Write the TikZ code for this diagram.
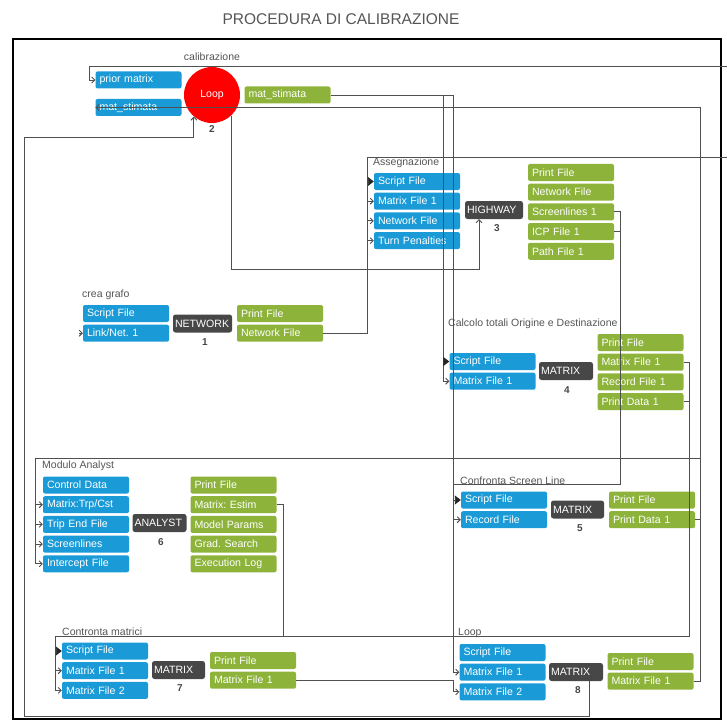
\documentclass[tikz,border=0pt]{standalone}
\usepackage{fontspec}
\setmainfont{Liberation Sans}
\usetikzlibrary{positioning,arrows.meta}
\definecolor{cubeblue}{HTML}{1A9BD7}
\definecolor{cubegreen}{HTML}{8DB33B}
\definecolor{cubedark}{HTML}{474747}
\definecolor{wiregray}{HTML}{505050}
\definecolor{labgray}{HTML}{555555}
\tikzset{
    inp/.style={fill=cubeblue, text=white, rounded corners=2pt,
        text width=78pt, inner xsep=4pt, inner ysep=0pt, minimum height=17pt,
        align=left, font=\fontsize{10.6}{11}\selectfont},
    outp/.style={inp, fill=cubegreen},
    prog/.style={fill=cubedark, text=white, rounded corners=2.5pt,
        text width=#1, inner xsep=2pt, inner ysep=0pt, minimum height=18pt,
        align=left, font=\fontsize{10.6}{11}\selectfont},
    num/.style={text=cubedark, font=\fontsize{10}{11}\selectfont\bfseries},
    grp/.style={text=labgray, anchor=west, inner sep=0pt,
        font=\fontsize{10.5}{12}\selectfont},
    wire/.style={draw=wiregray, line width=0.9pt},
    barb/.tip={Straight Barb[length=3pt,width=6pt]},
    scr/.tip={Triangle[length=6pt,width=9pt,color=black!85]},
}
\begin{document}
\frenchspacing
\begin{tikzpicture}[x=1pt,y=-1pt]
        \useasboundingbox (0,0) rectangle (727,722);
        \node[text=labgray, font=\fontsize{15.5}{17}\selectfont] (title) at (341,19.5) {PROCEDURA DI CALIBRAZIONE};
        \draw[line width=1.6pt] (13,39) rectangle (721,719);

        \node[grp, anchor=center] (gcal) at (212,57) {calibrazione};
        \node[inp] (pm) at (138.5,80) {prior matrix};
        \node[inp] (msi) at (138.5,107.5) {mat\_stimata};
        \node[circle, fill=red, text=white, minimum size=56pt, inner sep=0pt,
            font=\fontsize{10.5}{12}\selectfont] (loop) at (212,95) {Loop};
        \node[num] (n2) at (212,129) {2};
        \node[outp] (mso) at (287.5,95) {mat\_stimata};

        \node[grp] (gas) at (373,163) {Assegnazione};
        \node[inp] (a1) at (417,181.5) {Script File};
        \node[inp, below=2.3pt of a1] (a2) {Matrix File 1};
        \node[inp, below=2.3pt of a2] (a3) {Network File};
        \node[inp, below=2.3pt of a3] (a4) {Turn Penalties};
        \node[prog=54pt] (hw) at (494,210) {HIGHWAY};
        \node[num] (n3) at (497,228) {3};
        \node[outp] (b1) at (571,172.5) {Print File};
        \node[outp, below=2.3pt of b1] (b2) {Network File};
        \node[outp, below=2.3pt of b2] (b3) {Screenlines 1};
        \node[outp, below=2.3pt of b3] (b4) {ICP File 1};
        \node[outp, below=2.3pt of b4] (b5) {Path File 1};

        \node[grp] (gcg) at (82,295) {crea grafo};
        \node[inp] (c1) at (126,313.5) {Script File};
        \node[inp, below=2.3pt of c1] (c2) {Link/Net. 1};
        \node[prog=55pt] (nw) at (202.5,323.5) {NETWORK};
        \node[num] (n1) at (205,342) {1};
        \node[outp] (d1) at (280,313.5) {Print File};
        \node[outp, below=2.3pt of d1] (d2) {Network File};

        \node[grp] (gct) at (448,324) {Calcolo totali Origine e Destinazione};
        \node[inp] (e1) at (492.5,361.5) {Script File};
        \node[inp, below=2.3pt of e1] (e2) {Matrix File 1};
        \node[prog=50pt] (m4) at (566,371) {MATRIX};
        \node[num] (n4) at (567,390) {4};
        \node[outp] (f1) at (640.5,342.5) {Print File};
        \node[outp, below=2.3pt of f1] (f2) {Matrix File 1};
        \node[outp, below=2.3pt of f2] (f3) {Record File 1};
        \node[outp, below=2.3pt of f3] (f4) {Print Data 1};

        \node[grp] (gan) at (42,466) {Modulo Analyst};
        \node[inp] (g1) at (86,485) {Control Data};
        \node[inp, below=2.3pt of g1] (g2) {Matrix:Trp/Cst};
        \node[inp, below=2.3pt of g2] (g3) {Trip End File};
        \node[inp, below=2.3pt of g3] (g4) {Screenlines};
        \node[inp, below=2.3pt of g4] (g5) {Intercept File};
        \node[prog=50pt] (an) at (159.5,523) {ANALYST};
        \node[num] (n6) at (161,542) {6};
        \node[outp] (h1) at (233.5,485) {Print File};
        \node[outp, below=2.3pt of h1] (h2) {Matrix: Estim};
        \node[outp, below=2.3pt of h2] (h3) {Model Params};
        \node[outp, below=2.3pt of h3] (h4) {Grad. Search};
        \node[outp, below=2.3pt of h4] (h5) {Execution Log};

        \node[grp] (gcs) at (460,481) {Confronta Screen Line};
        \node[inp] (i1) at (504,500) {Script File};
        \node[inp, below=2.3pt of i1] (i2) {Record File};
        \node[prog=49pt] (m5) at (577.5,509.5) {MATRIX};
        \node[num] (n5) at (580,528) {5};
        \node[outp] (j1) at (652,500) {Print File};
        \node[outp, below=2.3pt of j1] (j2) {Print Data 1};

        \node[grp] (gcm) at (62,632) {Contronta matrici};
        \node[inp] (k1) at (105,651) {Script File};
        \node[inp, below=2.3pt of k1] (k2) {Matrix File 1};
        \node[inp, below=2.3pt of k2] (k3) {Matrix File 2};
        \node[prog=49pt] (m7) at (178.5,670) {MATRIX};
        \node[num] (n7) at (180,688) {7};
        \node[outp] (l1) at (253,660.5) {Print File};
        \node[outp, below=2.3pt of l1] (l2) {Matrix File 1};

        \node[grp] (glp) at (458,633) {Loop};
        \node[inp] (p1) at (502.5,652.5) {Script File};
        \node[inp, below=2.3pt of p1] (p2) {Matrix File 1};
        \node[inp, below=2.3pt of p2] (p3) {Matrix File 2};
        \node[prog=50pt] (m8) at (576,672) {MATRIX};
        \node[num] (n8) at (578,690) {8};
        \node[outp] (q1) at (650.5,661.5) {Print File};
        \node[outp, below=2.3pt of q1] (q2) {Matrix File 1};

        \coordinate (calR) at (727,66);
        \coordinate (asR) at (727,157);
        \coordinate (as0) at (367,157);
        \coordinate (hwk) at (0,269);
        \coordinate (lb1) at (24,716);
        \coordinate (lb2) at (24,137);
        \coordinate (sc0) at (620,484);
        \coordinate (cm0) at (55,636);
        \coordinate (cm1) at (689,636);
        \coordinate (an0) at (35,458);
        \coordinate (an1) at (700.5,458);
        \coordinate (p2x) at ([xshift=-6pt]p2.west);
        \coordinate (e2x) at ([xshift=-6pt]e2.west);

        \draw[wire, -{barb}] (calR) -| ([xshift=-6pt]pm.west) -- (pm.west);
        \draw[wire, -{barb}] (q2.east) -- ++(7,0) |- (msi.west);
        \draw[wire, -{barb}] (mso.east) -| (p2x) -- (p2.west);
        \draw[wire, -{barb}] (e2x |- mso.east) |- (e2.west);
        \draw[wire, -{scr}] (e1.west -| e2x) -- (e1.west);
        \draw[wire, -{barb}] (loop.-47) -- (loop.-47 |- hwk) -| ([xshift=-15pt]hw.south);
        \draw[wire, -{barb}] ([xshift=13pt]m8.south) |- (lb1) -- (lb2) -| (loop.-130);

        \draw[wire] (d2.east) -| (as0) -- (asR);
        \draw[wire, -{scr}] (a1.west -| as0) -- (a1.west);
        \draw[wire, -{barb}] (a2.west -| as0) -- (a2.west);
        \draw[wire, -{barb}] (a3.west -| as0) -- (a3.west);
        \draw[wire, -{barb}] (a4.west -| as0) -- (a4.west);
        \draw[wire, -{barb}] ([xshift=-4pt]c2.west) -- (c2.west);

        \draw[wire] (b3.east) -| (sc0) -- (sc0 -| p2x);
        \draw[wire] (b4.east) -- (b4.east -| sc0);
        \draw[wire, -{scr}] (i1.west -| p2x) -- (i1.west);
        \draw[wire, -{barb}] (i2.west -| p2x) -- (i2.west);

        \draw[wire, -{barb}] (f2.east) -| (cm1) -- (cm0) |- (k3.west);
        \draw[wire] (f4.east) -- (f4.east -| cm1);
        \draw[wire] (h2.east) -- ++(7,0) coordinate (h2r) -- (h2r |- cm0);
        \draw[wire, -{scr}] (k1.west -| cm0) -- (k1.west);
        \draw[wire, -{barb}] (k2.west -| cm0) -- (k2.west);

        \draw[wire, -{barb}] (an1) -- (an0) |- (g5.west);
        \draw[wire, -{barb}] (g2.west -| an0) -- (g2.west);
        \draw[wire, -{barb}] (g3.west -| an0) -- (g3.west);
        \draw[wire, -{barb}] (g4.west -| an0) -- (g4.west);
        \draw[wire] (j2.east) -- (j2.east -| an1);

        \draw[wire, -{barb}] (l2.east) -| (p3.west -| p2x) -- (p3.west);
\end{tikzpicture}
\end{document}
